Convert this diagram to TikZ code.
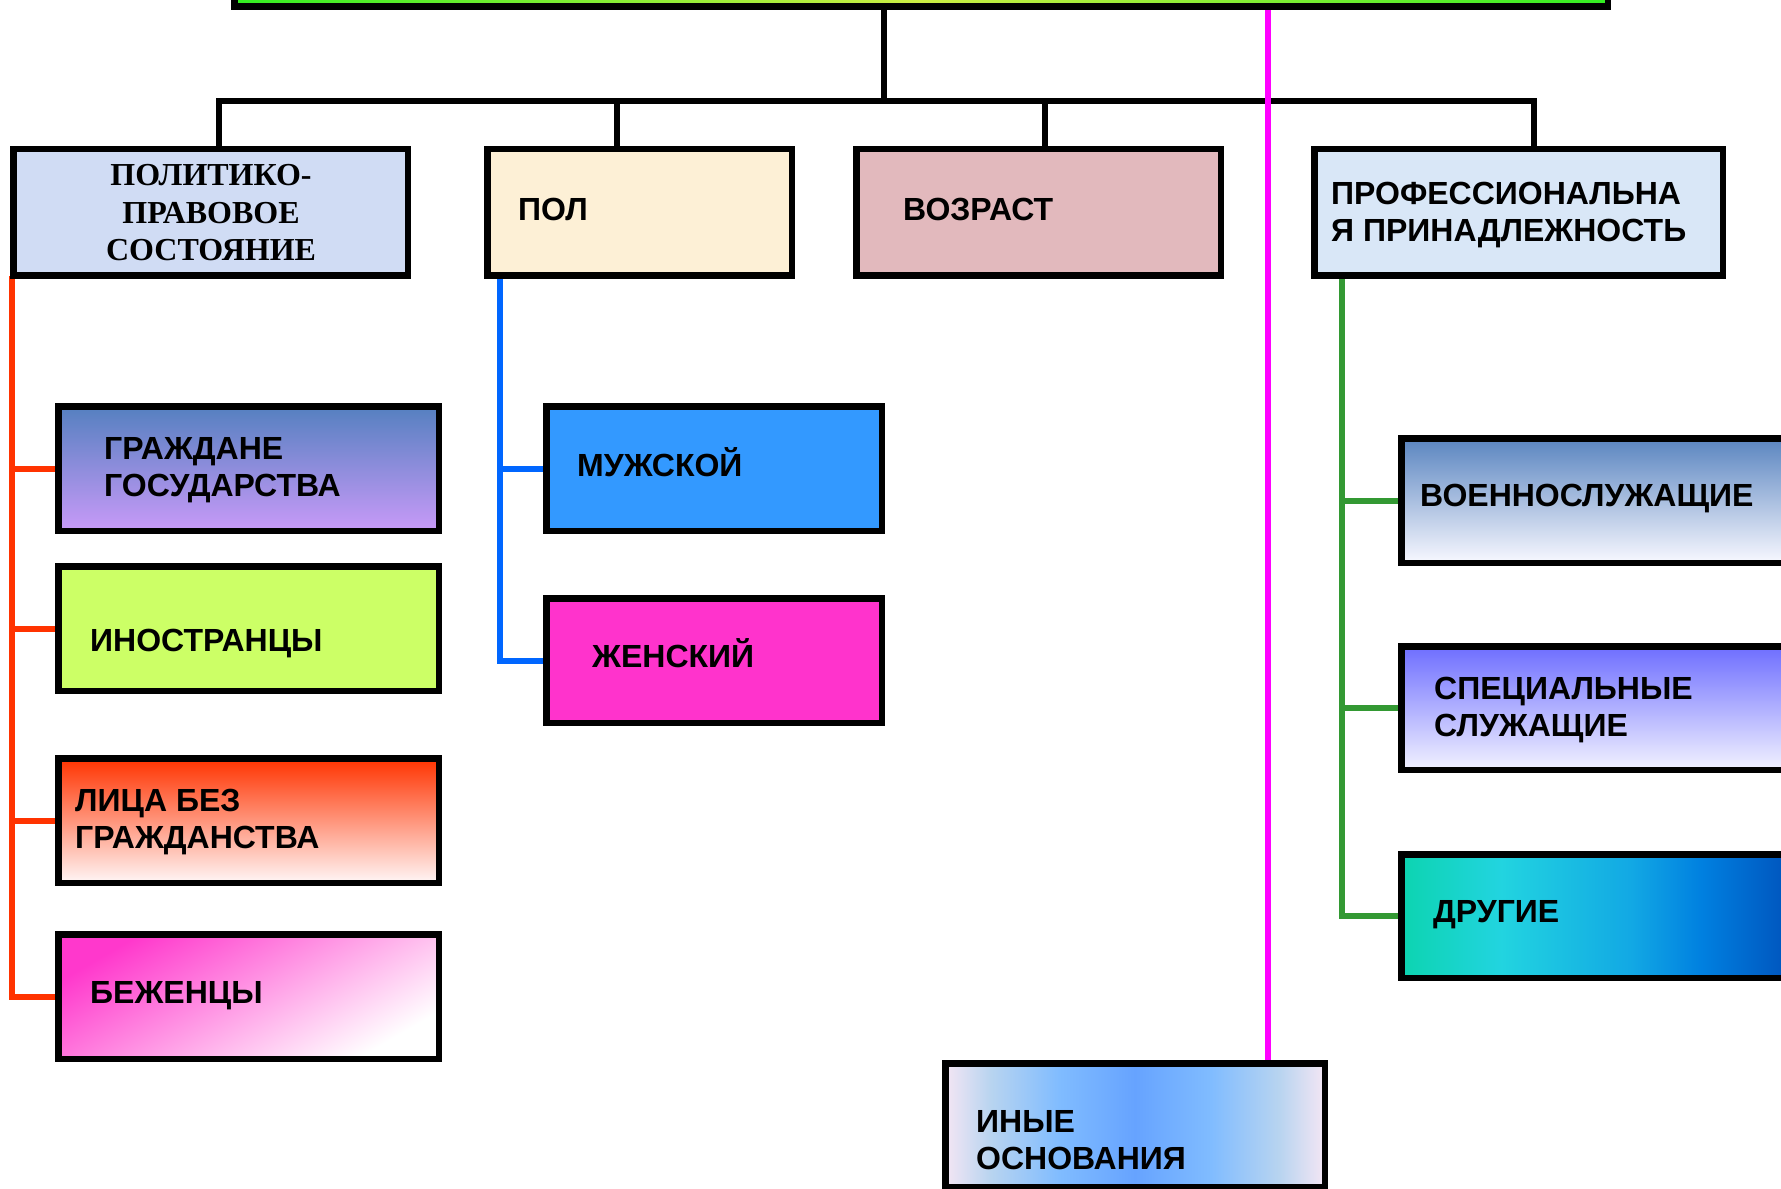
\documentclass[tikz,border=0pt]{standalone}
\usepackage{fontspec}
\setmainfont{Liberation Sans}
\newfontfamily\serifbold{Liberation Serif}
\pgfdeclarelayer{bg}
\pgfsetlayers{bg,main}
\definecolor{topg}{HTML}{33EE22}
\definecolor{topy}{HTML}{CCEE44}
\definecolor{politfill}{HTML}{D0DCF4}
\definecolor{polfill}{HTML}{FDF0D6}
\definecolor{vozfill}{HTML}{E2B9BD}
\definecolor{proffill}{HTML}{D9E7F7}
\definecolor{grtop}{HTML}{5580C0}
\definecolor{grbot}{HTML}{C89AF8}
\definecolor{inofill}{HTML}{CCFF66}
\definecolor{beztop}{HTML}{FF3300}
\definecolor{bezbot}{HTML}{FFF6F6}
\definecolor{bzhpink}{HTML}{FF38CC}
\definecolor{muzhfill}{HTML}{3399FF}
\definecolor{zhenfill}{HTML}{FF33CC}
\definecolor{voentop}{HTML}{5A85C0}
\definecolor{voenbot}{HTML}{F8F8FF}
\definecolor{spectop}{HTML}{6E6EFF}
\definecolor{specbot}{HTML}{F2F2FF}
\definecolor{dg1}{HTML}{0CD4B0}
\definecolor{dg2}{HTML}{22D4E0}
\definecolor{dg3}{HTML}{12A8E4}
\definecolor{dg4}{HTML}{0080E0}
\definecolor{dg5}{HTML}{0058C0}
\definecolor{dg6}{HTML}{003A99}
\definecolor{in1}{HTML}{F4E6F4}
\definecolor{in2}{HTML}{B8D4F0}
\definecolor{in3}{HTML}{80BCFF}
\definecolor{in4}{HTML}{66A3FF}
\definecolor{redc}{HTML}{FF3300}
\definecolor{bluec}{HTML}{0066FF}
\definecolor{greenc}{HTML}{339933}
\definecolor{magc}{HTML}{FF00FF}
\pgfdeclarehorizontalshading{drugshade}{100bp}{color(0bp)=(dg1); color(25bp)=(dg1); color(35bp)=(dg2); color(48bp)=(dg3); color(55bp)=(dg4); color(63bp)=(dg5); color(75bp)=(dg6); color(100bp)=(dg6)}
\pgfdeclarehorizontalshading{inyshade}{100bp}{color(0bp)=(in1); color(25bp)=(in1); color(31bp)=(in2); color(40bp)=(in3); color(50bp)=(in4); color(60bp)=(in3); color(69bp)=(in2); color(75bp)=(in1); color(100bp)=(in1)}
\begin{document}
\begin{tikzpicture}[x=1pt,y=-1pt,
  box/.style={draw=black, line width=6.5pt, rectangle, inner sep=0pt, outer sep=0pt},
  toprow/.style={box, minimum height=126.5pt},
  leftcol/.style={box, minimum width=380.5pt, minimum height=124.5pt},
  lab/.style={font=\fontsize{32}{37.5}\selectfont\bfseries, anchor=west, align=left, inner sep=0pt, text=black},
  blk/.style={draw=black, line width=6pt, line join=miter},
  redl/.style={draw=redc, line width=6pt},
  bluel/.style={draw=bluec, line width=6pt},
  greenl/.style={draw=greenc, line width=6pt},
  magl/.style={draw=magc, line width=5.5pt}]
\useasboundingbox (0,0) rectangle (1781,1189);

% top row
\node[box, left color=topg, right color=topg, middle color=topy, minimum width=1373.5pt, minimum height=303.5pt] (top) at (921,-145.25) {};
\node[toprow, fill=politfill, minimum width=394.5pt] (polit) at (210.5,212.4) {};
\node[toprow, fill=polfill, minimum width=304.5pt] (pol) at (639.5,212.4) {};
\node[toprow, fill=vozfill, minimum width=364.5pt] (voz) at (1038.5,212.4) {};
\node[toprow, fill=proffill, minimum width=408.5pt] (prof) at (1518.5,212.4) {};

% left column
\node[leftcol, top color=grtop, bottom color=grbot] (grazh) at (248.5,468.5) {};
\node[leftcol, fill=inofill] (ino) at (248.5,628.5) {};
\node[leftcol, top color=beztop, bottom color=bezbot] (bez) at (248.5,820.5) {};
\node[leftcol, top color=bzhpink, bottom color=white, shading angle=30] (bezh) at (248.5,996.5) {};

% middle column
\node[box, fill=muzhfill, minimum width=335.5pt, minimum height=124.5pt] (muzh) at (714,468.5) {};
\node[box, fill=zhenfill, minimum width=335.5pt, minimum height=124.5pt] (zhen) at (714,660.5) {};

% right column
\node[box, top color=voentop, bottom color=voenbot, minimum width=500.5pt, minimum height=124.5pt] (voen) at (1651.5,500.5) {};
\node[box, top color=spectop, bottom color=specbot, minimum width=500.5pt, minimum height=123.5pt] (spec) at (1651.5,708) {};
\node[box, shade, shading=drugshade, minimum width=500.5pt, minimum height=123.5pt] (drug) at (1651.5,916) {};

% bottom
\node[box, shade, shading=inyshade, minimum width=379.5pt, minimum height=123.5pt] (iny) at (1135,1125) {};

% labels
\node[font=\serifbold\bfseries\fontsize{32}{37.5}\selectfont, align=center, inner sep=0pt] (tpolit) at (211,213) {ПОЛИТИКО-\\ПРАВОВОЕ\\СОСТОЯНИЕ};
\node[lab] (tpol) at (518,209) {ПОЛ};
\node[lab] (tvoz) at (903,209) {ВОЗРАСТ};
\node[lab] (tprof) at (1331,215) {ПРОФЕССИОНАЛЬНА\\Я ПРИНАДЛЕЖНОСТЬ};
\node[lab] (tgr) at (104,470) {ГРАЖДАНЕ\\ГОСУДАРСТВА};
\node[lab] (tino) at (90,644) {ИНОСТРАНЦЫ};
\node[lab] (tbez) at (75,822) {ЛИЦА БЕЗ\\ГРАЖДАНСТВА};
\node[lab] (tbzh) at (90,996) {БЕЖЕНЦЫ};
\node[lab] (tmuzh) at (577,462) {МУЖСКОЙ};
\node[lab] (tzhen) at (592,653) {ЖЕНСКИЙ};
\node[lab] (tvoen) at (1420,499) {ВОЕННОСЛУЖАЩИЕ};
\node[lab] (tspec) at (1434,710) {СПЕЦИАЛЬНЫЕ\\СЛУЖАЩИЕ};
\node[lab] (tdrug) at (1433,915) {ДРУГИЕ};
\node[lab] (tiny) at (976,1140) {ИНЫЕ\\ОСНОВАНИЯ};

% connectors
\coordinate (busc) at (884,101);
\coordinate (d1) at (218.7,101);
\coordinate (d2) at (617,101);
\coordinate (d3) at (1045,101);
\coordinate (d4) at (1534,101);
\coordinate (rx) at (12.2,0);
\coordinate (bx) at (500,0);
\coordinate (gx) at (1342,0);
\coordinate (mx) at (1268,0);
\begin{pgfonlayer}{bg}
\draw[blk] (top.south -| busc) -- (busc);
\draw[blk] (d1 |- polit.north) -- (d1) -- (d4) -- (d4 |- prof.north);
\draw[blk] (d2) -- (d2 |- pol.north);
\draw[blk] (d3) -- (d3 |- voz.north);
\draw[magl] (top.south -| mx) -- (iny.north -| mx);
\draw[redl] (polit.south -| rx) |- (bezh.west);
\draw[redl] (rx |- grazh.west) -- (grazh.west);
\draw[redl] (rx |- ino.west) -- (ino.west);
\draw[redl] (rx |- bez.west) -- (bez.west);
\draw[bluel] (pol.south -| bx) |- (zhen.west);
\draw[bluel] (bx |- muzh.west) -- (muzh.west);
\draw[greenl] (prof.south -| gx) |- (drug.west);
\draw[greenl] (gx |- voen.west) -- (voen.west);
\draw[greenl] (gx |- spec.west) -- (spec.west);
\end{pgfonlayer}
\end{tikzpicture}
\end{document}
